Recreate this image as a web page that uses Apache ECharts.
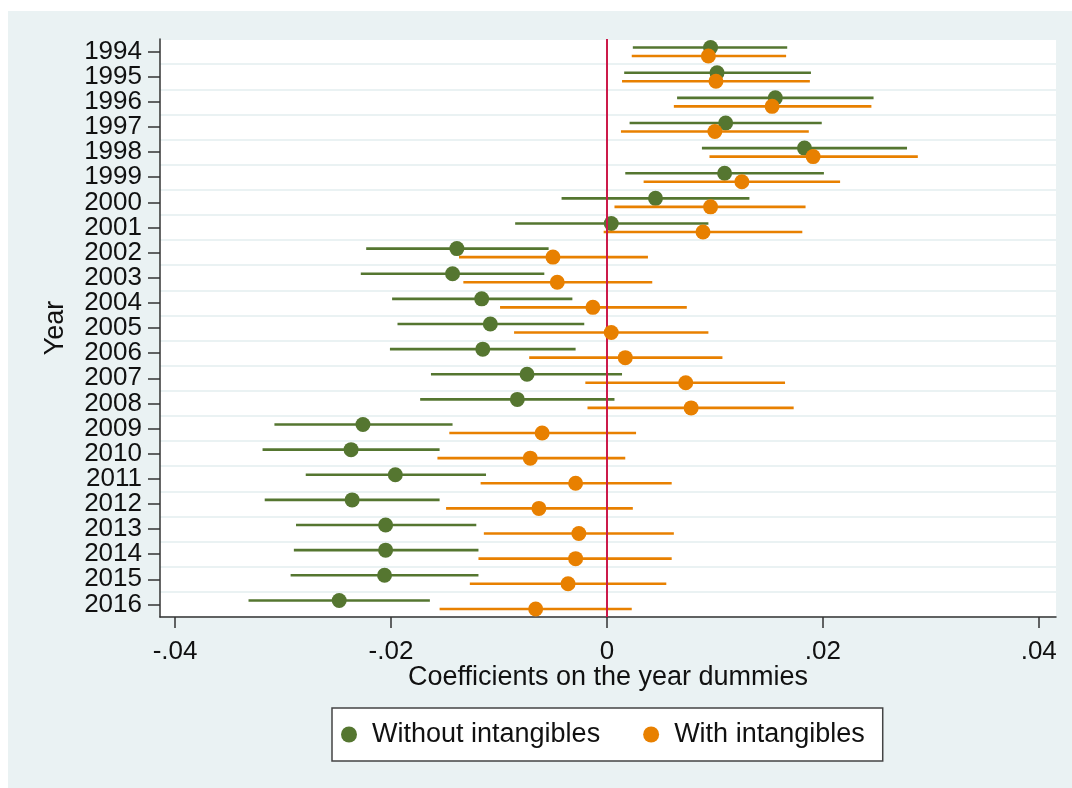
<!DOCTYPE html>
<html>
<head>
<meta charset="utf-8">
<script src="https://cdn.jsdelivr.net/npm/echarts@6/dist/echarts.min.js"></script>
<style>
  html, body { margin: 0; padding: 0; background: #ffffff; }
  #bg { position: absolute; left: 8px; top: 11px; width: 1064px; height: 777px; background: #eaf2f3; }
  #chart { position: absolute; left: 0; top: 0; width: 1072px; height: 788px; }
</style>
</head>
<body>
<div id="bg"></div>
<div id="chart"></div>
<script>
// ---- data ----
const years = ['1994','1995','1996','1997','1998','1999','2000','2001','2002','2003','2004',
               '2005','2006','2007','2008','2009','2010','2011','2012','2013','2014','2015','2016'];

// Without intangibles
const withoutCoef = [0.0096, 0.0102, 0.0156, 0.0110, 0.0183, 0.0109, 0.0045, 0.0004, -0.0139, -0.0143, -0.0116,
                     -0.0108, -0.0115, -0.0074, -0.0083, -0.0226, -0.0237, -0.0196, -0.0236, -0.0205, -0.0205, -0.0206, -0.0248];
const withoutLo   = [0.0024, 0.0016, 0.0065, 0.0021, 0.0088, 0.0017, -0.0042, -0.0085, -0.0223, -0.0228, -0.0199,
                     -0.0194, -0.0201, -0.0163, -0.0173, -0.0308, -0.0319, -0.0279, -0.0317, -0.0288, -0.0290, -0.0293, -0.0332];
const withoutHi   = [0.0167, 0.0189, 0.0247, 0.0199, 0.0278, 0.0201, 0.0132, 0.0094, -0.0054, -0.0058, -0.0032,
                     -0.0021, -0.0029, 0.0014, 0.0007, -0.0143, -0.0155, -0.0112, -0.0155, -0.0121, -0.0119, -0.0119, -0.0164];

// With intangibles
const withCoef = [0.0094, 0.0101, 0.0153, 0.0100, 0.0191, 0.0125, 0.0096, 0.0089, -0.0050, -0.0046, -0.0013,
                  0.0004, 0.0017, 0.0073, 0.0078, -0.0060, -0.0071, -0.0029, -0.0063, -0.0026, -0.0029, -0.0036, -0.0066];
const withLo   = [0.0023, 0.0014, 0.0062, 0.0013, 0.0095, 0.0034, 0.0007, -0.0003, -0.0137, -0.0133, -0.0099,
                  -0.0086, -0.0072, -0.0020, -0.0018, -0.0146, -0.0157, -0.0117, -0.0149, -0.0114, -0.0119, -0.0127, -0.0155];
const withHi   = [0.0166, 0.0188, 0.0245, 0.0187, 0.0288, 0.0216, 0.0184, 0.0181, 0.0038, 0.0042, 0.0074,
                  0.0094, 0.0107, 0.0165, 0.0173, 0.0027, 0.0017, 0.0060, 0.0024, 0.0062, 0.0060, 0.0055, 0.0023];

const xTickValues = [-0.04, -0.02, 0, 0.02, 0.04];
const xTickLabels = ['-.04', '-.02', '0', '.02', '.04'];
const seriesNames = ['Without intangibles', 'With intangibles'];
const xTitle = 'Coefficients on the year dummies';
const yTitle = 'Year';

// ---- chart ----
const GREEN = '#557630';
const ORANGE = '#e88000';
const FONT = '"Liberation Sans", Arial, sans-serif';

function ciData(lo, hi) { return years.map((y, i) => [lo[i], hi[i], i]); }
function ptData(v) { return years.map((y, i) => [v[i], i]); }

function ciSeries(name, lo, hi, color, dy, z) {
  return {
    name: name, type: 'custom', z: z, silent: true,
    data: ciData(lo, hi),
    encode: { x: [0, 1], y: 2 },
    renderItem: function (params, api) {
      const a = api.coord([api.value(0), api.value(2)]);
      const b = api.coord([api.value(1), api.value(2)]);
      return {
        type: 'line',
        shape: { x1: a[0], y1: a[1] + dy, x2: b[0], y2: b[1] + dy },
        style: { stroke: color, lineWidth: 2.6 }
      };
    }
  };
}

const chart = echarts.init(document.getElementById('chart'), null, { renderer: 'canvas' });
chart.setOption({
  backgroundColor: 'transparent',
  animation: false,
  textStyle: { fontFamily: FONT },
  grid: { left: 160, top: 39, right: 16, bottom: 171, show: true, backgroundColor: '#ffffff', borderWidth: 0, containLabel: false },
  xAxis: {
    type: 'value', min: -0.0414, max: 0.0416,
    name: xTitle, nameLocation: 'middle', nameGap: 47, nameMoveOverlap: false,
    nameTextStyle: { fontSize: 27, color: '#111', fontFamily: FONT },
    axisLine: { show: true, onZero: false, lineStyle: { color: '#333', width: 1.5 } },
    axisTick: { show: true, length: 11, customValues: xTickValues, lineStyle: { color: '#333', width: 1.5 } },
    axisLabel: {
      customValues: xTickValues, margin: 22, fontSize: 26, color: '#111', fontFamily: FONT,
      formatter: function (v) {
        const i = xTickValues.findIndex(t => Math.abs(t - v) < 1e-9);
        return i >= 0 ? xTickLabels[i] : '';
      }
    },
    splitLine: { show: false }
  },
  yAxis: {
    type: 'category', data: years, inverse: true, boundaryGap: true,
    name: yTitle, nameLocation: 'middle', nameGap: 91, nameRotate: 90,
    nameTextStyle: { fontSize: 27, color: '#111', fontFamily: FONT },
    axisLine: { show: true, onZero: false, lineStyle: { color: '#333', width: 1.5 } },
    axisTick: { show: true, alignWithLabel: true, length: 12, lineStyle: { color: '#333', width: 1.5 } },
    axisLabel: { interval: 0, margin: 18, fontSize: 26, color: '#111', fontFamily: FONT },
    splitLine: { show: true, interval: 0, lineStyle: { color: '#eaf2f3', width: 2 } }
  },
  legend: {
    data: seriesNames,
    left: 332, top: 708,
    orient: 'horizontal',
    icon: 'circle', itemWidth: 16, itemHeight: 16, itemGap: 43,
    padding: [13, 18, 13, 9],
    backgroundColor: '#ffffff', borderColor: '#444', borderWidth: 1.5, borderRadius: 0,
    textStyle: { fontSize: 27, color: '#111', fontFamily: FONT, padding: [0, 0, 0, 10] }
  },
  series: [
    ciSeries('ci_without', withoutLo, withoutHi, GREEN, -4, 2),
    {
      name: seriesNames[0], type: 'scatter', z: 3,
      data: ptData(withoutCoef), symbol: 'circle', symbolSize: 15, symbolOffset: [0, -4],
      itemStyle: { color: GREEN, opacity: 1 },
      markLine: {
        silent: true, symbol: 'none', label: { show: false },
        lineStyle: { color: '#cc1a4a', width: 2, type: 'solid' },
        data: [{ xAxis: 0 }]
      }
    },
    ciSeries('ci_with', withLo, withHi, ORANGE, 4.5, 4),
    {
      name: seriesNames[1], type: 'scatter', z: 5,
      data: ptData(withCoef), symbol: 'circle', symbolSize: 15, symbolOffset: [0, 4.5],
      itemStyle: { color: ORANGE, opacity: 1 }
    }
  ]
});
</script>
</body>
</html>
